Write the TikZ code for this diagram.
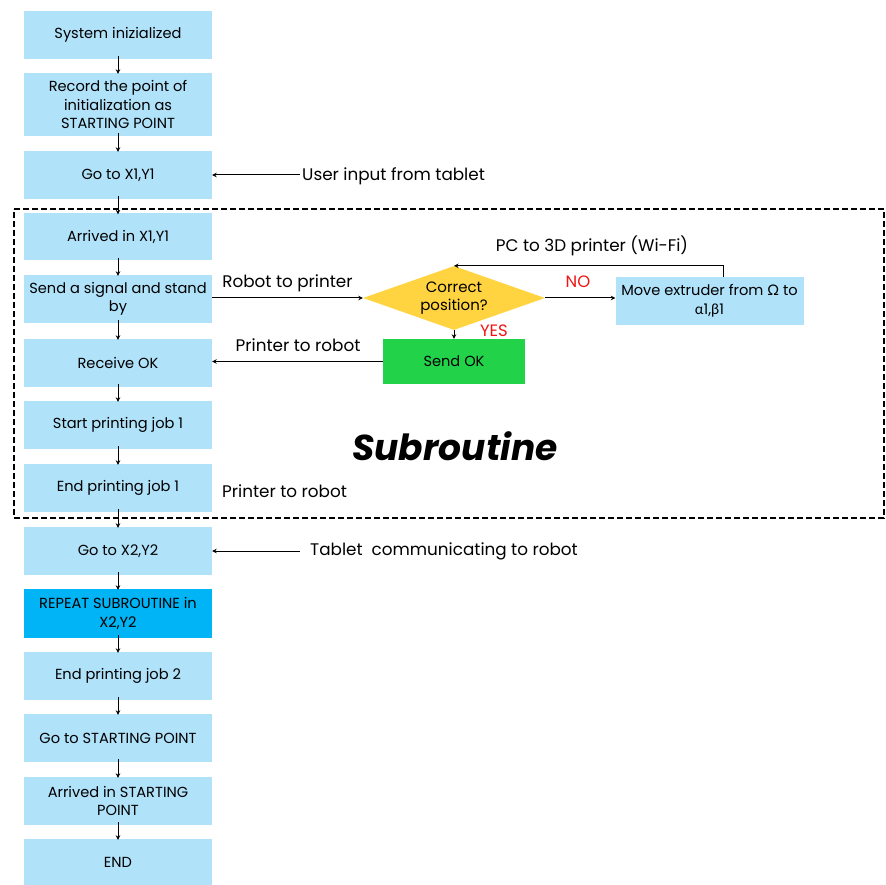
\documentclass[tikz,border=0pt]{standalone}
\usepackage{fontspec}
\setmainfont{Poppins}
\newfontfamily\gk{Lato}
\usetikzlibrary{arrows.meta,shapes.geometric}
\definecolor{lb}{RGB}{176,226,250}
\definecolor{db}{RGB}{0,180,245}
\definecolor{yl}{RGB}{255,212,64}
\definecolor{gr}{RGB}{34,210,72}
\definecolor{nored}{RGB}{240,20,20}
\begin{document}
\begin{tikzpicture}[x=1pt,y=-1pt,
  box/.style={fill=lb,draw=none,minimum width=188pt,align=center,font=\fontsize{14.6}{18.5}\selectfont,inner sep=0pt},
  arr/.style={-{Stealth[length=4.5pt,width=4.5pt]},line width=1pt},
  lbl/.style={font=\fontsize{16.8}{19}\selectfont,inner sep=0pt},
  redl/.style={font=\fontsize{16.5}{18}\selectfont,text=nored,inner sep=0pt}]
\useasboundingbox (0,0) rectangle (886,885);
% main column
\node[box,minimum height=48pt] (sys) at (118,35) {System inizialized};
\node[box,minimum height=63pt] (rec) at (118,104.5) {Record the point of\\initialization as\\STARTING POINT};
\node[box,minimum height=48pt] (go1) at (118,175) {Go to X1,Y1};
\node[box,minimum height=47pt] (arr1) at (118,237) {Arrived in X1,Y1};
\node[box,minimum height=48pt] (send) at (118,299) {Send a signal and stand\\by};
\node[box,minimum height=48pt] (recv) at (118,363) {Receive OK};
\node[box,minimum height=48pt] (start) at (118,425) {Start printing job 1};
\node[box,minimum height=48pt] (end1) at (118,488) {End printing job 1};
\node[box,minimum height=48pt] (go2) at (118,551) {Go to X2,Y2};
\node[box,fill=db,minimum height=49pt] (rep) at (118,613.5) {REPEAT SUBROUTINE in\\X2,Y2};
\node[box,minimum height=48pt] (end2) at (118,676) {End printing job 2};
\node[box,minimum height=48pt] (gosp) at (118,738) {Go to STARTING POINT};
\node[box,minimum height=48pt] (arrsp) at (118,801) {Arrived in STARTING\\POINT};
\node[box,minimum height=46pt] (fin) at (118,862) {END};
% vertical arrows
\foreach \a/\b in {sys/rec,rec/go1,go1/arr1,arr1/send,send/recv,recv/start,start/end1,end1/go2,go2/rep,rep/end2,end2/gosp,gosp/arrsp,arrsp/fin}
  \draw[arr] ([yshift=3pt]\a.south) -- ([yshift=-1pt]\b.north);
% dashed subroutine frame
\draw[line width=1.3pt,dash pattern=on 6pt off 3pt] (14,209) -- (884,209) -- (884,518) -- (14,518) -- cycle;
% decision part
\node[diamond,aspect=2.84,fill=yl,minimum width=182pt,minimum height=64pt,inner sep=0pt,align=center,font=\fontsize{15}{18}\selectfont] (dec) at (454,298) {Correct\\position?};
\node[box,minimum height=48pt] (move) at (709.5,301) {Move extruder from {\gk Ω} to\\{\gk α}1,{\gk β}1};
\node[fill=gr,minimum width=142pt,minimum height=45pt,inner sep=0pt,font=\fontsize{14.6}{17}\selectfont] (ok) at (454,361.5) {Send OK};
\draw[arr] (send.east |- dec.west) -- (dec.west);
\node[lbl] (l1) at (287.5,283) {Robot to printer};
\draw[arr] (dec.east) -- (move.west |- dec.east);
\node[redl] (no) at (578,282) {NO};
\coordinate (fb) at (723,265);
\draw[arr] (move.north -| fb) |- (dec.north);
\node[lbl] (l2) at (592,246) {PC to 3D printer (Wi-Fi)};
\draw[arr] (dec.south) -- (ok.north);
\node[redl] (yes) at (494,331) {YES};
\draw[arr] (ok.west) -- (recv.east |- ok.west);
\node[lbl] (l3) at (298,345) {Printer to robot};
\node[font=\bfseries\itshape\fontsize{36}{40}\selectfont,inner sep=0pt] (sub) at (455,446) {Subroutine};
\node[lbl,anchor=west] (l4) at (222,491) {Printer to robot};
% side inputs
\coordinate (ui) at (300,175);
\draw[arr] (ui) -- (go1.east);
\node[lbl,anchor=west] (l5) at (302,176) {User input from tablet};
\coordinate (tc) at (300,551);
\draw[arr] (tc) -- (go2.east);
\node[lbl,anchor=west] (l6) at (310,551) {Tablet\ \ communicating to robot};
\end{tikzpicture}
\end{document}
